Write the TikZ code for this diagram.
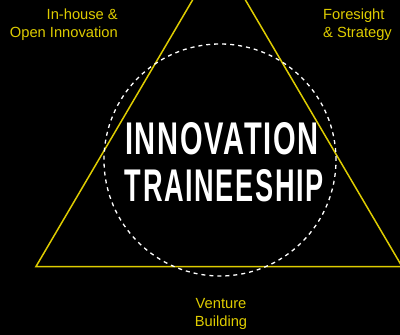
\documentclass[tikz,border=0pt]{standalone}
\usepackage{fontspec}
\setmainfont{Liberation Sans}
\newfontfamily\titlefont[LetterSpace=6]{Liberation Sans}
\definecolor{ylw}{RGB}{222,204,0}
\begin{document}
\begin{tikzpicture}[x=1pt,y=-1pt,
  lbl/.style={text=ylw, inner sep=0pt, font=\fontsize{14.7}{18}\selectfont},
  title/.style={text=white, inner sep=0pt}]
\fill[black] (0,0) rectangle (400,335);
\useasboundingbox (0,0) rectangle (400,335);
\coordinate (apex) at (219,-45);
\coordinate (bl) at (36,266.5);
\coordinate (br) at (402,266.5);
\begin{scope}
\clip (0,0) rectangle (400,335);
\draw[ylw, line width=1.5pt, line join=miter] (apex) -- (bl) -- (br) -- cycle;
\end{scope}
\node[draw=white, line width=1.3pt, dash pattern=on 4pt off 4pt, circle, minimum size=232pt, inner sep=0pt] (circ) at (220,160) {};
\node[title] (t1) at (221,139) {\resizebox{192pt}{32pt}{\titlefont\bfseries INNOVATION\kern-0.06em}};
\node[title] (t2) at (223.5,186) {\resizebox{197pt}{32pt}{\titlefont\bfseries TRAINEESHIP\kern-0.06em}};
\node[lbl, align=right, anchor=east] (l1) at (118,25) {In-house \&\\Open Innovation};
\node[lbl, align=left, anchor=west] (l2) at (323,25) {Foresight\\\& Strategy};
\node[lbl, align=center] (l3) at (221,314) {Venture\\Building};
\end{tikzpicture}
\end{document}
